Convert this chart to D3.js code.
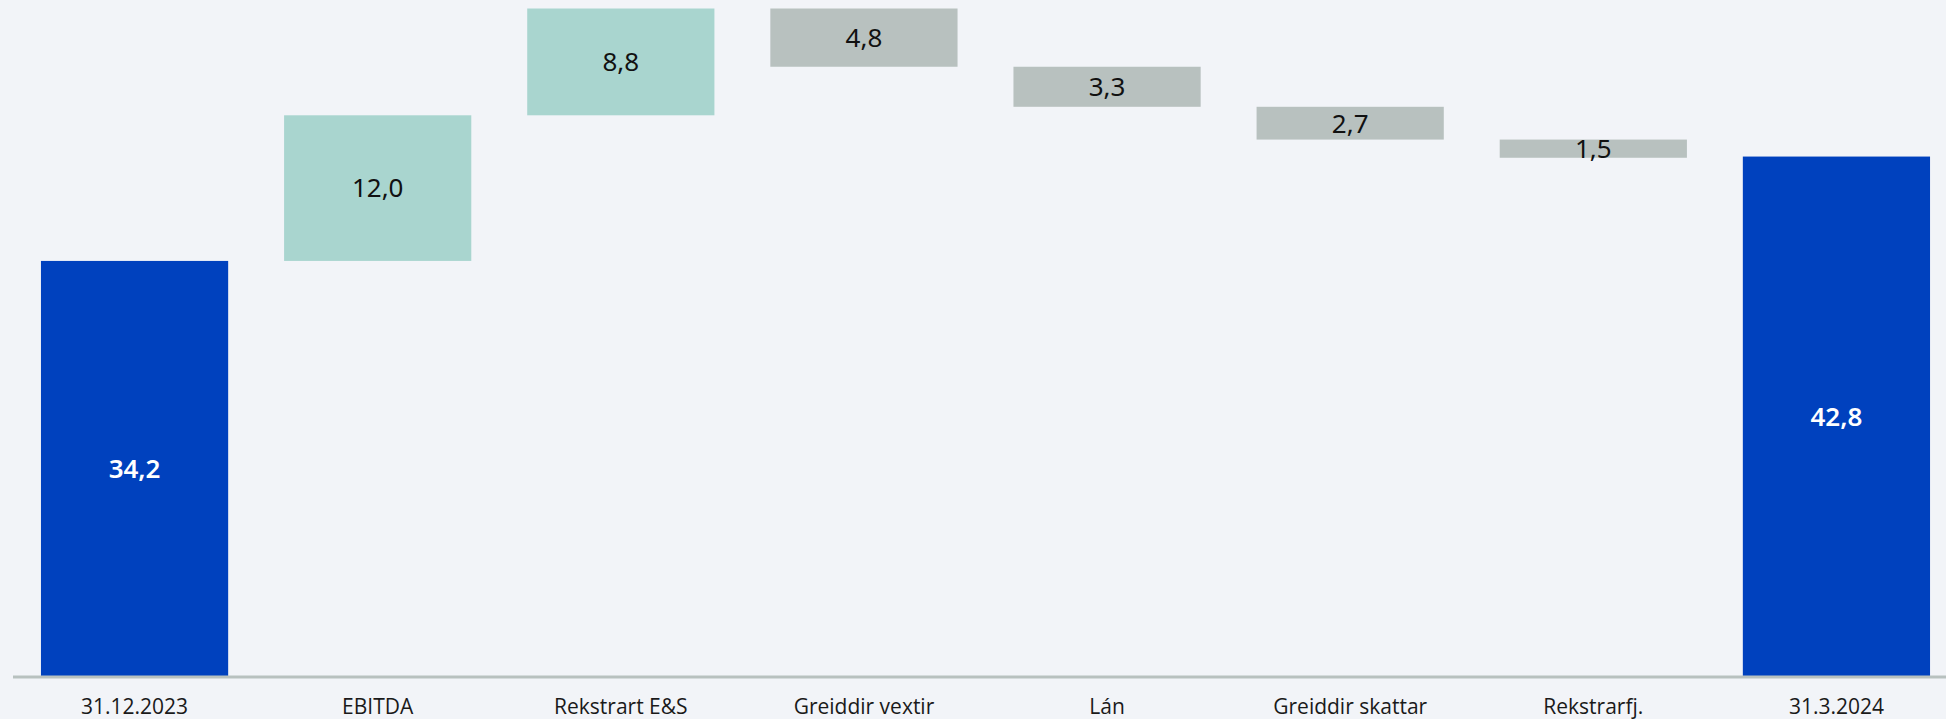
<!DOCTYPE html>
<html>
<head>
<meta charset="utf-8">
<script src="https://cdn.jsdelivr.net/npm/d3@7"></script>
<style>
  html, body { margin: 0; padding: 0; background: #f2f4f8; }
  svg { display: block; }
</style>
</head>
<body>
<div id="chart"></div>
<script>
// categories and values (comma decimals)
var categories = ["31.12.2023", "EBITDA", "Rekstrart E&S", "Greiddir vextir", "Lán", "Greiddir skattar", "Rekstrarfj.", "31.3.2024"];
var values = [34.2, 12.0, 8.8, -4.8, -3.3, -2.7, -1.5, 42.8];
var kinds = ["total", "up", "up", "down", "down", "down", "down", "total"];

var w = 1946;
var h = 719;
var baseY = 676;

var colors = { total: "#0041be", up: "#a9d5cf", down: "#b8c1bf" };

var svg = d3.select("#chart")
  .append("svg")
  .attr("width", w)
  .attr("height", h);

svg.append("rect")
  .attr("width", w)
  .attr("height", h)
  .attr("fill", "#f2f4f8");

var xScale = d3.scaleBand()
  .domain(categories)
  .range([13, 1958])
  .paddingInner(0.23)
  .paddingOuter(0.115);

var yScale = d3.scaleLinear()
  .domain([0, 55.7])
  .range([baseY, 0]);

// waterfall: work out low/high of every bar
var running = 0;
var bars = categories.map(function(c, i) {
  var lo, hi;
  if (kinds[i] == "total") {
    lo = 0;
    hi = values[i];
    running = values[i];
  } else {
    var next = running + values[i];
    lo = Math.min(running, next);
    hi = Math.max(running, next);
    running = next;
  }
  return { cat: c, value: values[i], kind: kinds[i], lo: lo, hi: hi };
});

svg.selectAll("rect.bar")
  .data(bars)
  .enter()
  .append("rect")
  .attr("class", "bar")
  .attr("x", function(d) { return xScale(d.cat); })
  .attr("width", xScale.bandwidth())
  .attr("y", function(d) { return yScale(d.hi); })
  .attr("height", function(d) { return yScale(d.lo) - yScale(d.hi); })
  .attr("fill", function(d) { return colors[d.kind]; });

//value labels
var fmt = function(v) { return d3.format(".1f")(Math.abs(v)).replace(".", ","); };

svg.selectAll("text.val")
  .data(bars)
  .enter()
  .append("text")
  .attr("class", "val")
  .attr("x", function(d) { return xScale(d.cat) + xScale.bandwidth() / 2; })
  .attr("y", function(d) { return (yScale(d.lo) + yScale(d.hi)) / 2; })
  .attr("dy", "0.36em")
  .attr("text-anchor", "middle")
  .attr("font-family", "'Noto Sans', sans-serif")
  .attr("font-size", 26)
  .attr("font-weight", function(d) { return d.kind == "total" ? 600 : 400; })
  .attr("fill", function(d) { return d.kind == "total" ? "#ffffff" : "#111111"; })
  .text(function(d) { return fmt(d.value); });

//x axis
var xAxis = d3.axisBottom(xScale).tickSize(0).tickPadding(0);

var gx = svg.append("g")
  .attr("transform", "translate(0," + (baseY + 1) + ")")
  .call(xAxis);

gx.select(".domain").remove();

gx.append("line")
  .attr("x1", 13)
  .attr("x2", w)
  .attr("stroke", "#b8c1bf")
  .attr("stroke-width", 3);

gx.selectAll(".tick text")
  .attr("y", 30)
  .attr("dy", "0.35em")
  .attr("font-family", "'Open Sans', sans-serif")
  .attr("font-size", 21)
  .attr("fill", "#1a1a1a");
</script>
</body>
</html>
